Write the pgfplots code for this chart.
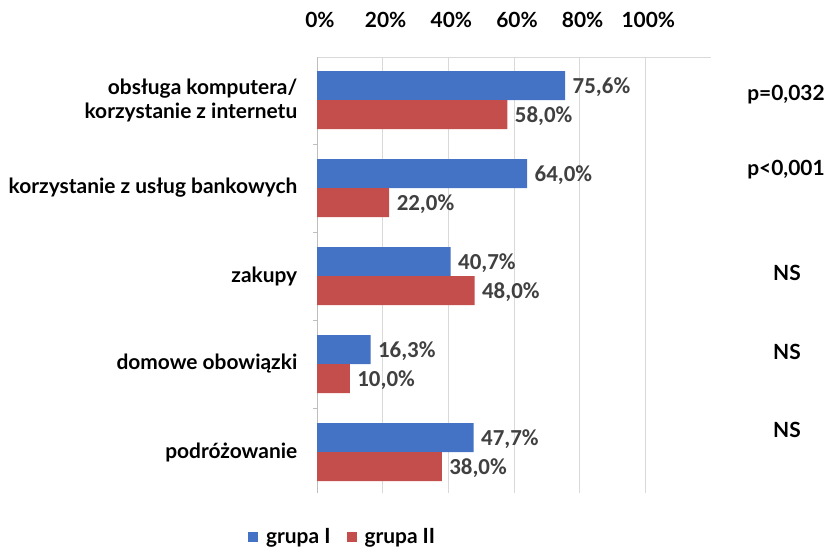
\documentclass[border=0pt]{standalone}
\usepackage{pgfplots}
\pgfplotsset{compat=1.18}
\usepackage{fontspec}
\setmainfont{Lato}
\newfontfamily\calib{Carlito}
\definecolor{gblue}{RGB}{68,114,196}
\definecolor{gred}{RGB}{196,78,76}
\definecolor{lbl}{RGB}{64,64,64}
\definecolor{gridc}{RGB}{217,217,217}
\definecolor{axc}{RGB}{190,190,190}
\newcommand{\lab}{\bfseries\fontsize{21}{24}\selectfont}
\begin{document}
\begin{tikzpicture}
\useasboundingbox (0,0) rectangle (829bp,-548bp);
\begin{axis}[
  at={(317bp,-57bp)}, anchor=north west,
  scale only axis, width=394bp, height=436bp,
  xbar, bar width=29bp,
  xmin=0, xmax=120, ymin=-0.466, ymax=4.489,
  axis x line*=top, axis y line*=left,
  x axis line style={draw=gridc, line width=0.8bp, -},
  y axis line style={draw=axc, line width=0.8bp, -},
  xtick={0,20,...,100}, xticklabels={0\%,20\%,40\%,60\%,80\%,100\%},
  xmajorgrids, grid style={draw=gridc, line width=0.8bp},
  major x tick style={draw=none},
  xticklabel style={font=\lab, anchor=center, yshift=33bp, xshift=3bp},
  ytick={0,1,2,3,4},
  yticklabels={podróżowanie, domowe obowiązki, zakupy, korzystanie z usług bankowych, {obsługa komputera/\\korzystanie z internetu}},
  yticklabel style={align=right, font=\lab, xshift=-12bp},
  major y tick style={draw=none},
  minor ytick={0.5,1.5,2.5,3.5},
  minor y tick style={draw=axc, line width=0.8bp},
  minor tick length=4bp, tick align=outside,
  point meta=x,
  /pgf/number format/assume math mode=true,
  nodes near coords={\pgfmathprintnumber[fixed,fixed zerofill,precision=1,use comma,assume math mode=true]{\pgfplotspointmeta}\%},
  nodes near coords style={font=\calib\bfseries\fontsize{23}{23}\selectfont, text=lbl, xshift=4bp, yshift=-1.5bp},
  legend style={at={(0.065,-0.101)}, anchor=center, draw=none, fill=none, font=\lab,
    legend columns=2, /tikz/every even column/.append style={column sep=14bp}},
]
\addplot[fill=gblue, draw=none, bar shift=14.5bp,
  legend image code/.code={\fill[gblue] (0bp,-5bp) rectangle (10bp,5bp); \path (16bp,0bp);}]
  coordinates {(75.6,4) (64.0,3) (40.7,2) (16.3,1) (47.7,0)};
\addplot[fill=gred, draw=none, bar shift=-14.5bp,
  legend image code/.code={\fill[gred] (0bp,-5bp) rectangle (10bp,5bp); \path (16bp,0bp);}]
  coordinates {(58.0,4) (22.0,3) (48.0,2) (10.0,1) (38.0,0)};
\legend{grupa I, grupa II}
\end{axis}
\node[font=\lab] at (786bp,-95bp) {p=0,032};
\node[font=\lab] at (786bp,-170bp) {p<0,001};
\node[font=\lab] at (787bp,-273bp) {NS};
\node[font=\lab] at (787bp,-352bp) {NS};
\node[font=\lab] at (787bp,-430bp) {NS};
\end{tikzpicture}
\end{document}
